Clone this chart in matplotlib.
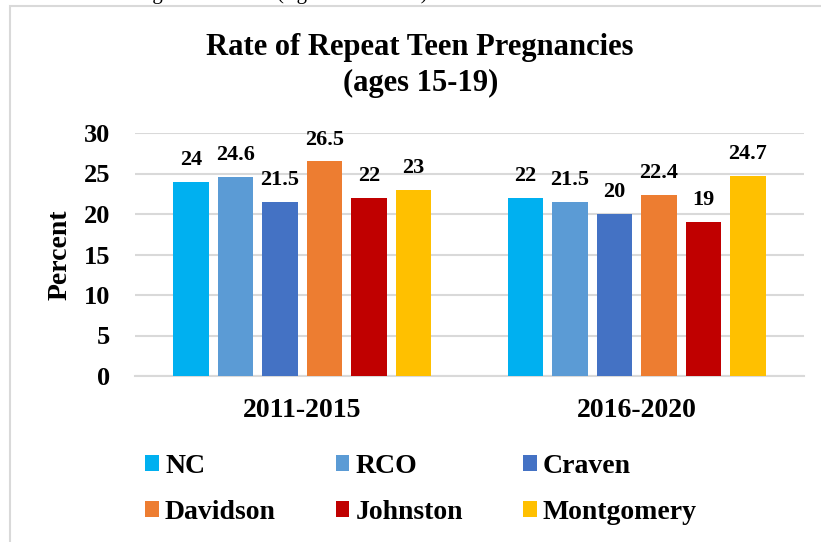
import numpy as np
import matplotlib.pyplot as plt
from matplotlib.patches import Rectangle

periods = ['2011-2015', '2016-2020']
regions = ['NC', 'RCO', 'Craven', 'Davidson', 'Johnston', 'Montgomery']
nc = [24, 22]
rco = [24.6, 21.5]
craven = [21.5, 20]
davidson = [26.5, 22.4]
johnston = [22, 19]
montgomery = [23, 24.7]
colors = ['#00B0F0', '#5B9BD5', '#4472C4', '#ED7D31', '#C00000', '#FFC000']

plt.rcParams['font.family'] = ['Liberation Serif', 'DejaVu Serif']
plt.rcParams['font.weight'] = 'bold'

W, H = 821, 542
fig = plt.figure(figsize=(W/100, H/100), dpi=100)
# chart frame, plus the bottom of a line of page text that is cut off above it
fig.patches.append(Rectangle((10/W, -0.1), 1.1, 1 - 6/H + 0.1, transform=fig.transFigure,
                             fill=False, edgecolor='#D9D9D9', linewidth=1.5))
fig.text(163/W, 1 + 1.5/H, 'among', ha='right', fontsize=15, fontweight='normal', va='baseline')
fig.text(277/W, 1 + 1.5/H, '(figure 10 and 11)', fontsize=15, fontweight='normal', va='baseline')

ax = fig.add_axes([135/W, 1 - 376/H, (804 - 135)/W, (376 - 133)/H])
series = [nc, rco, craven, davidson, johnston, montgomery]
x = np.arange(len(periods))
step = 0.133
width = 0.105
bars = []
for i, (name, vals) in enumerate(zip(regions, series)):
    b = ax.bar(x + (i - 2.5)*step, vals, width, color=colors[i], label=name, zorder=3)
    ax.bar_label(b, labels=[f'{v:g}' for v in vals], padding=8.5, fontsize=16, fontweight='bold')
    bars.append(b)

ax.set_xlim(-0.5, 1.5)
ax.set_ylim(0, 30)
ax.set_yticks(range(0, 31, 5))
ax.set_xticks(x)
ax.set_xticklabels(periods)
ax.tick_params(axis='y', length=0, pad=18, labelsize=19)
ax.tick_params(axis='x', length=0, pad=16, labelsize=20)
ax.set_ylabel('Percent', fontsize=20, fontweight='bold', labelpad=8)
ax.grid(axis='y', color='#D9D9D9', linewidth=1.5, zorder=0)
for s in ['top', 'right', 'left']:
    ax.spines[s].set_visible(False)
ax.spines['bottom'].set_color('#D9D9D9')
ax.spines['bottom'].set_linewidth(1.5)

fig.text(420/W, 1 - 55/H, 'Rate of Repeat Teen Pregnancies', ha='center', va='baseline',
         fontsize=22, fontweight='bold')
fig.text(421/W, 1 - 91/H, '(ages 15-19)', ha='center', va='baseline',
         fontsize=22, fontweight='bold')

# legend filled row by row: NC, RCO, Craven / Davidson, Johnston, Montgomery
order = [0, 3, 1, 4, 2, 5]
handles = [bars[i] for i in order]
labels = [regions[i] for i in order]
fig.legend(handles, labels, ncol=3, loc='upper left', bbox_to_anchor=(145/W, 1 - 454/H),
           frameon=False, fontsize=20, handlelength=0.5, handleheight=0.5, handletextpad=0.22,
           columnspacing=2.15, labelspacing=0.75, borderaxespad=0, borderpad=0)

fig.savefig('out.png', dpi=100)
